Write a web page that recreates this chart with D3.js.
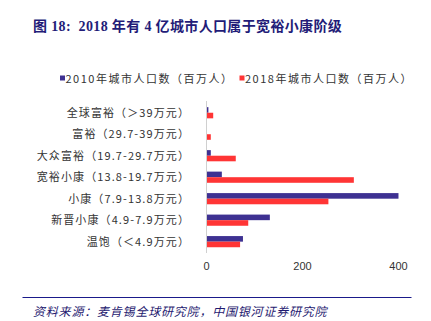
<!DOCTYPE html>
<html><head><meta charset="utf-8">
<script src="https://cdn.jsdelivr.net/npm/d3@7"></script>
<style>body{margin:0;background:#fff}svg{display:block}text{white-space:pre}</style>
</head><body>
<svg id="c" width="431" height="321"></svg>
<script>
const categories = ["全球富裕（＞39万元）","富裕（29.7-39万元）","大众富裕（19.7-29.7万元）","宽裕小康（13.8-19.7万元）","小康（7.9-13.8万元）","新晋小康（4.9-7.9万元）","温饱（＜4.9万元）"];
const values2010 = [5, 2, 10, 33, 401, 133, 77];
const values2018 = [15, 10, 62, 308, 255, 88, 71];
const seriesNames = ["2010年城市人口数（百万人）","2018年城市人口数（百万人）"];
const tickValues = [0, 200, 400];
const colors = ["#3e3192", "#ff3535"];

const svg = d3.select("#c");
const cjk = "'Noto Sans CJK SC', 'Noto Sans', sans-serif";

// title
svg.append("text").attr("x", 33).attr("y", 31)
  .attr("font-family", "'Liberation Serif', 'Noto Sans CJK SC', serif")
  .attr("font-weight", "bold").attr("font-size", 14).attr("letter-spacing", 0.35).attr("fill", "#231c78")
  .text("图 18:  2018 年有 4 亿城市人口属于宽裕小康阶级");

// legend
const legend = [{x: 60, name: seriesNames[0], c: colors[0]}, {x: 239.5, name: seriesNames[1], c: colors[1]}];
legend.forEach(l => {
  svg.append("rect").attr("x", l.x).attr("y", 75.5).attr("width", 5).attr("height", 5).attr("fill", l.c);
  svg.append("text").attr("x", l.x + 5.5).attr("y", 82.5)
    .attr("font-family", cjk).attr("font-size", 11).attr("letter-spacing", 1.5).attr("fill", "#333")
    .text(l.name);
});

const x = d3.scaleLinear().domain([0, 400]).range([206, 398]);
const y = d3.scaleBand().domain(categories).range([102, 252.4]).paddingInner(0.48).paddingOuter(0.24);
const sub = d3.scaleBand().domain([0, 1]).range([0, y.bandwidth()]);

// axis line
svg.append("line").attr("x1", 206.5).attr("x2", 206.5).attr("y1", 101).attr("y2", 253)
  .attr("stroke", "#d0d0d0").attr("stroke-width", 1);

const series = [values2010, values2018];
series.forEach((vals, si) => {
  svg.append("g").selectAll("rect").data(vals).join("rect")
    .attr("x", x(0) + 1)
    .attr("y", (d, i) => y(categories[i]) + sub(si))
    .attr("width", d => Math.max(0, x(d) - x(0) - 1))
    .attr("height", sub.bandwidth())
    .attr("fill", colors[si]);
});

// category labels
svg.append("g").selectAll("text").data(categories).join("text")
  .attr("x", 190).attr("y", d => y(d) + y.bandwidth() / 2 + 4)
  .attr("text-anchor", "end")
  .attr("font-family", cjk).attr("font-size", 11).attr("letter-spacing", 1.1).attr("fill", "#333")
  .text(d => d);

// x axis ticks
const xAxis = d3.axisBottom(x).tickValues(tickValues).tickSize(0).tickPadding(0);
const gx = svg.append("g").attr("transform", "translate(0,262)").call(xAxis);
gx.select(".domain").remove();
gx.selectAll("text").attr("font-family", "'Liberation Sans', Arial, sans-serif").attr("font-size", 11).attr("fill", "#333").attr("dy", "0.7em");

// bottom rule and source
svg.append("line").attr("x1", 22.5).attr("x2", 411.5).attr("y1", 297.5).attr("y2", 297.5)
  .attr("stroke", "#1a1a8a").attr("stroke-width", 1.2);
svg.append("text").attr("x", 33).attr("y", 316)
  .attr("font-family", cjk).attr("font-size", 12).attr("letter-spacing", 0.8).attr("font-style", "italic").attr("fill", "#1f1a70")
  .text("资料来源：麦肯锡全球研究院，中国银河证券研究院");
</script>
</body></html>
